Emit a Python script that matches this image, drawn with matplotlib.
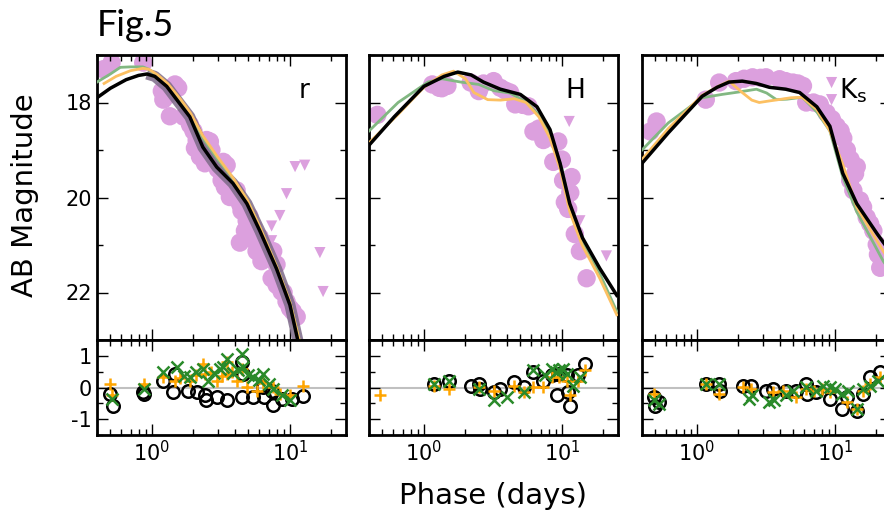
import numpy as np
import matplotlib
matplotlib.use("Agg")
import matplotlib.pyplot as plt
from matplotlib.ticker import MultipleLocator

plt.rcParams["axes.unicode_minus"] = False

# ---- r band ----
r_obs_t = [0.444, 0.51, 0.865, 1.18, 1.21, 1.3, 1.35, 1.47, 1.55, 1.7, 1.89, 2.0, 2.11, 2.05, 2.49, 2.63, 2.7,
           2.23, 2.42, 3.0, 3.29, 3.48, 3.2, 3.38, 3.67, 3.9, 4.11, 4.34, 4.46, 4.86, 4.72, 4.34, 5.1, 5.42,
           5.5, 6.06, 5.73, 6.22, 6.8, 7.57, 8.0, 7.37, 8.0, 8.7, 9.0, 9.45, 10.0, 10.5, 11.2]
r_obs_m = [17.30, 17.16, 17.16, 17.76, 17.94, 17.85, 18.29, 17.62, 17.69, 18.3, 18.47, 18.6, 18.79, 18.96, 18.79,
           18.82, 19.0, 19.14, 19.28, 19.4, 19.25, 19.32, 19.64, 19.78, 19.99, 19.9, 19.85, 20.13, 20.28, 20.49,
           20.70, 20.95, 20.4, 20.63, 20.9, 20.84, 21.13, 21.34, 21.2, 21.13, 21.41, 21.70, 21.84, 21.98, 22.0,
           22.19, 22.33, 22.4, 22.51]
r_lim_t = [10.9, 12.8, 9.45, 8.45, 7.37, 7.37, 16.5, 17.4]
r_lim_m = [19.35, 19.32, 19.92, 20.38, 20.6, 20.91, 21.16, 21.98]

r_black_t = [0.4, 0.5, 0.65, 0.8, 0.92, 1.05, 1.28, 1.55, 1.88, 2.34, 2.95, 3.86, 4.88, 6.05, 8.0, 10.0, 11.5]
r_black_m = [17.9, 17.7, 17.52, 17.43, 17.4, 17.45, 17.66, 17.98, 18.3, 18.94, 19.36, 19.7, 20.13, 20.7, 21.5, 22.26, 23.05]
r_green_t = [0.4, 0.5, 0.59, 0.7, 0.86, 0.95, 1.1, 1.3, 1.6, 1.9, 2.34, 3.0, 3.86, 4.9, 6.05, 8.0, 10.0, 11.8]
r_green_m = [17.57, 17.4, 17.26, 17.25, 17.25, 17.3, 17.45, 17.62, 17.95, 18.25, 18.75, 19.2, 19.6, 20.05, 20.62, 21.45, 22.2, 23.05]
r_orange_t = [0.45, 0.55, 0.7, 0.86, 0.95, 1.1, 1.3, 1.6, 1.9, 2.34, 3.0, 3.86, 4.9, 6.05, 8.0, 10.0, 11.8]
r_orange_m = [17.6, 17.45, 17.33, 17.28, 17.3, 17.42, 17.6, 17.92, 18.22, 18.7, 19.15, 19.58, 20.05, 20.62, 21.45, 22.2, 23.05]

r_res_black_t = [0.50, 0.52, 0.865, 0.87, 1.21, 1.47, 1.43, 1.83, 2.11, 2.42, 2.45, 2.94, 3.48, 4.46, 4.59,
                 4.5, 5.42, 6.40, 6.5, 7.37, 7.49, 8.70, 10.3, 12.5]
r_res_black = [-0.2, -0.57, -0.15, -0.2, 0.22, 0.43, -0.15, -0.1, -0.15, -0.25, -0.41, -0.31, -0.41, 0.8, 0.43,
               -0.31, -0.31, 0.01, -0.31, -0.1, -0.54, -0.36, -0.36, -0.27]
r_res_orange_t = [0.50, 0.51, 0.87, 1.21, 1.47, 1.6, 1.88, 2.1, 2.35, 2.42, 2.7, 2.94, 3.2, 3.48, 3.48, 3.8,
                  4.11, 4.5, 4.86, 5.73, 6.4, 7.57, 8.45, 10.0, 12.5]
r_res_orange = [0.12, -0.25, 0.12, 0.33, 0.22, 0.3, 0.22, 0.4, 0.75, 0.43, 0.5, 0.22, 0.35, 0.8, 0.43, 0.5,
                0.22, 0.6, 0.01, -0.1, 0.15, 0.01, -0.2, -0.25, 0.06]
r_res_green_t = [0.51, 0.87, 1.21, 1.51, 1.7, 1.88, 2.1, 2.35, 2.55, 2.8, 3.1, 3.29, 3.48, 3.9, 4.2, 4.46, 4.59,
                 5.0, 5.42, 6.0, 6.4, 7.0, 7.57, 8.7, 10.0]
r_res_green = [-0.36, -0.05, 0.49, 0.65, 0.35, 0.33, 0.5, 0.59, 0.22, 0.45, 0.6, 0.65, 0.91, 0.45, 0.55, 1.07,
               0.65, 0.4, 0.33, 0.25, 0.43, 0.1, -0.05, -0.25, -0.41]

# ---- H band ----
h_obs_t = [0.46, 1.15, 1.29, 1.35, 1.48, 2.18, 2.5, 2.7, 3.2, 3.58, 3.9, 4.22, 4.59, 5.2, 5.72, 6.22, 6.8, 7.34,
           9.41, 8.66, 10.0, 10.2, 11.75, 10.5, 11.1, 11.5, 12.4, 13.5, 15.1]
h_obs_m = [18.26, 17.62, 17.69, 17.7, 17.65, 17.58, 17.76, 17.6, 17.55, 17.69, 17.75, 17.79, 18.04, 18.05, 18.08,
           18.61, 18.55, 18.79, 18.82, 19.25, 19.2, 19.64, 19.57, 20.1, 20.24, 19.9, 20.77, 21.13, 21.7]
h_lim_t = [11.3, 13.5, 21.0]
h_lim_m = [18.4, 20.49, 21.23]

h_black_t = [0.4, 0.61, 1.0, 1.4, 1.76, 2.2, 2.7, 3.58, 5.0, 6.6, 8.2, 9.7, 11.4, 14.1, 18.8, 25.0]
h_black_m = [18.9, 18.3, 17.66, 17.45, 17.36, 17.42, 17.57, 17.72, 17.83, 18.09, 18.57, 19.28, 20.13, 20.85, 21.49, 22.06]
h_green_t = [0.4, 0.65, 1.07, 1.35, 1.85, 2.5, 3.2, 4.2, 5.6, 7.0, 8.5, 10.0, 11.5, 14.0, 18.8, 25.0]
h_green_m = [18.6, 18.0, 17.57, 17.5, 17.57, 17.62, 17.75, 17.8, 18.0, 18.3, 18.75, 19.4, 20.2, 20.9, 21.6, 22.4]
h_orange_t = [0.4, 0.65, 1.0, 1.35, 1.64, 2.0, 2.3, 2.9, 3.6, 4.5, 5.5, 6.8, 8.2, 9.7, 11.4, 14.0, 18.8, 25.0]
h_orange_m = [18.85, 18.25, 17.68, 17.42, 17.34, 17.5, 17.79, 17.94, 17.95, 17.92, 18.0, 18.3, 18.75, 19.4, 20.3, 21.0, 21.7, 22.47]

h_res_black_t = [1.19, 1.52, 2.18, 2.5, 2.55, 3.2, 3.58, 4.46, 5.27, 6.22, 7.34, 8.43, 9.41, 9.16, 10.8, 11.1, 11.4, 13.1, 14.6]
h_res_black = [0.12, 0.22, 0.06, 0.12, -0.04, -0.15, -0.04, 0.17, 0.01, 0.49, 0.22, 0.38, 0.43, -0.25, 0.38, -0.15, -0.57, 0.38, 0.75]
h_res_orange_t = [0.477, 1.19, 1.52, 2.5, 3.2, 4.46, 5.27, 6.22, 7.34, 8.43, 9.6, 10.8, 11.4, 13.1, 14.6]
h_res_orange = [-0.25, 0.06, -0.04, 0.01, -0.1, 0.06, -0.15, 0.01, 0.01, 0.33, 0.33, 0.22, -0.25, 0.22, 0.54]
h_res_green_t = [1.19, 1.52, 2.5, 3.2, 4.0, 5.27, 6.22, 7.5, 8.43, 9.0, 9.6, 10.2, 10.8, 12.1, 13.5]
h_res_green = [0.12, 0.22, -0.04, -0.41, -0.31, -0.15, 0.54, 0.4, 0.6, 0.5, 0.54, 0.6, 0.43, 0.06, 0.33]

# ---- Ks band ----
k_obs_t = [0.46, 0.51, 1.16, 1.45, 1.92, 2.2, 2.53, 2.9, 3.17, 3.97, 4.4, 4.96, 5.4, 5.87, 6.2, 7.0, 7.77, 8.7,
           9.5, 10.3, 11.0, 11.5, 12.2, 13.0, 14.4, 12.9, 13.6, 14.0, 15.2, 16.0, 17.0, 18.0, 19.0, 20.1, 20.5, 21.3]
k_obs_m = [18.61, 18.4, 17.94, 17.58, 17.55, 17.5, 17.47, 17.48, 17.47, 17.51, 17.55, 17.58, 17.6, 17.65, 18.0,
           18.0, 18.04, 18.22, 18.35, 18.5, 18.6, 18.75, 19.0, 19.2, 19.35, 19.64, 19.85, 19.5, 20.06, 20.2, 20.42,
           20.55, 20.7, 20.99, 21.2, 21.48]
k_lim_t = [9.46, 9.46]
k_lim_m = [17.58, 17.94]

k_black_t = [0.4, 0.62, 1.09, 1.4, 1.71, 2.13, 2.7, 3.35, 4.4, 5.55, 7.4, 9.2, 11.4, 14.4, 20.3, 26.0]
k_black_m = [19.28, 18.64, 17.87, 17.68, 17.57, 17.55, 17.6, 17.68, 17.72, 17.79, 18.09, 18.5, 19.49, 20.13, 20.77, 21.2]
k_green_t = [0.4, 0.62, 1.09, 1.52, 2.0, 2.7, 3.2, 3.77, 4.5, 5.8, 7.4, 9.2, 11.4, 14.4, 22.4, 26.0]
k_green_m = [19.0, 18.43, 17.9, 17.83, 17.78, 17.72, 17.8, 17.94, 17.93, 17.89, 18.2, 18.6, 19.57, 20.3, 21.34, 21.6]
k_orange_t = [0.4, 0.62, 1.09, 1.45, 1.71, 2.13, 2.5, 2.83, 3.3, 3.9, 4.8, 5.8, 7.4, 9.2, 11.4, 14.4, 22.4, 26.0]
k_orange_m = [19.2, 18.55, 17.85, 17.65, 17.55, 17.79, 17.95, 18.0, 17.97, 17.94, 17.9, 17.89, 18.15, 18.6, 19.3, 20.2, 21.13, 21.4]

k_res_black_t = [0.485, 0.50, 0.53, 1.16, 1.45, 1.47, 2.14, 2.46, 3.17, 3.55, 4.44, 5.25, 6.2, 6.3, 7.35, 9.2,
                 11.2, 12.2, 14.4, 16.1, 18.0, 21.3]
k_res_black = [-0.31, -0.57, -0.47, 0.12, 0.12, -0.1, 0.06, 0.06, -0.1, -0.04, -0.1, -0.1, 0.12, -0.2, -0.15, -0.36,
               -0.68, -0.31, -0.73, -0.2, 0.33, 0.49]
k_res_orange_t = [0.485, 1.16, 1.45, 2.14, 2.46, 3.55, 4.2, 5.25, 6.2, 7.0, 8.0, 9.2, 12.2, 14.4, 16.0, 18.0, 21.3]
k_res_orange = [-0.2, 0.12, -0.2, 0.01, -0.04, -0.15, -0.1, -0.31, -0.04, -0.1, -0.05, -0.15, -0.47, -0.68, -0.1, 0.12, 0.33]
k_res_green_t = [0.485, 0.53, 1.16, 1.45, 2.4, 2.5, 3.35, 3.6, 4.44, 5.0, 6.2, 7.35, 8.2, 9.2, 10.0, 11.2, 12.5,
                 14.4, 16.0, 18.0, 20.5]
k_res_green = [-0.41, -0.52, 0.12, 0.12, -0.36, -0.25, -0.47, -0.4, -0.25, -0.1, 0.01, -0.1, 0.05, 0.01, -0.05,
               -0.2, -0.1, -0.68, -0.05, 0.06, 0.22]

panels = [
    ("r", r_obs_t, r_obs_m, r_lim_t, r_lim_m, r_black_t, r_black_m, r_green_t, r_green_m, r_orange_t, r_orange_m,
     r_res_black_t, r_res_black, r_res_orange_t, r_res_orange, r_res_green_t, r_res_green),
    ("H", h_obs_t, h_obs_m, h_lim_t, h_lim_m, h_black_t, h_black_m, h_green_t, h_green_m, h_orange_t, h_orange_m,
     h_res_black_t, h_res_black, h_res_orange_t, h_res_orange, h_res_green_t, h_res_green),
    ("K$_\\mathrm{s}$", k_obs_t, k_obs_m, k_lim_t, k_lim_m, k_black_t, k_black_m, k_green_t, k_green_m, k_orange_t, k_orange_m,
     k_res_black_t, k_res_black, k_res_orange_t, k_res_orange, k_res_green_t, k_res_green),
]

W, H = 884, 517
fig = plt.figure(figsize=(W / 100, H / 100), dpi=100)
lefts = [97, 369, 642]
pw = 249

PLUM = "#dca0de"
GREEN_LINE = "#82b882"
ORANGE_LINE = "#fcc062"

for i, p in enumerate(panels):
    (lab, ot, om, lt, lm, bt, bm, gt, gm, ort, orm,
     rbt, rb, rot, ro, rgt, rg) = p
    left = lefts[i] / W
    ax = fig.add_axes([left, (H - 340) / H, pw / W, 285 / H])
    axr = fig.add_axes([left, (H - 435) / H, pw / W, 95 / H])

    ax.scatter(ot, om, s=175, color=PLUM, edgecolors="none", zorder=1)
    ax.scatter(lt, lm, s=65, marker="v", color=PLUM, edgecolors="none", zorder=1)
    if i == 0:
        # grey-purple band of the model set in r
        ax.plot(bt[4:], bm[4:], color="#7d6a88", lw=8, alpha=0.85, zorder=2, solid_capstyle="butt")
    ax.plot(gt, gm, color=GREEN_LINE, lw=2, zorder=3)
    ax.plot(ort, orm, color=ORANGE_LINE, lw=2, zorder=3)
    ax.plot(bt, bm, color="black", lw=2.5, zorder=4)

    ax.set_xscale("log")
    ax.set_xlim(0.4, 25.5)
    ax.set_ylim(23, 17)
    ax.set_yticks([18, 20, 22])
    ax.yaxis.set_minor_locator(MultipleLocator(1))
    ax.tick_params(labelbottom=False)
    ax.text(0.83 if i < 2 else 0.85, 0.875, lab, transform=ax.transAxes, fontsize=19, ha="center", va="center")

    axr.axhline(0, color="#c0c0c0", lw=1.5, zorder=0)
    axr.plot(rbt, rb, "o", mfc="none", mec="black", ms=9, mew=1.8, zorder=2)
    axr.plot(rot, ro, "+", color="orange", ms=9, mew=1.8, zorder=3)
    axr.plot(rgt, rg, "x", color="#2a8a2a", ms=8, mew=1.8, zorder=3)
    axr.set_xscale("log")
    axr.set_xlim(0.4, 25.5)
    axr.set_ylim(-1.5, 1.5)
    axr.set_yticks([-1, 0, 1])
    axr.yaxis.set_minor_locator(MultipleLocator(0.5))

    for a in (ax, axr):
        a.tick_params(which="both", direction="in", top=True, right=True, labelsize=15)
        a.tick_params(which="major", length=8, width=1)
        a.tick_params(which="minor", length=4, width=1)
        for sp in a.spines.values():
            sp.set_linewidth(2)
        if i > 0:
            a.tick_params(labelleft=False)

fig.text(97 / W, 1 - 36 / H, "Fig.5", fontsize=26, family="Lato", va="baseline", ha="left")
fig.text(25 / W, 1 - 195 / H, "AB Magnitude", fontsize=21, rotation=90, ha="center", va="center")
fig.text(493 / W, 1 - 496 / H, "Phase (days)", fontsize=21, ha="center", va="center")

fig.savefig("out.png", dpi=100)
plt.close(fig)
print("saved out.png")
